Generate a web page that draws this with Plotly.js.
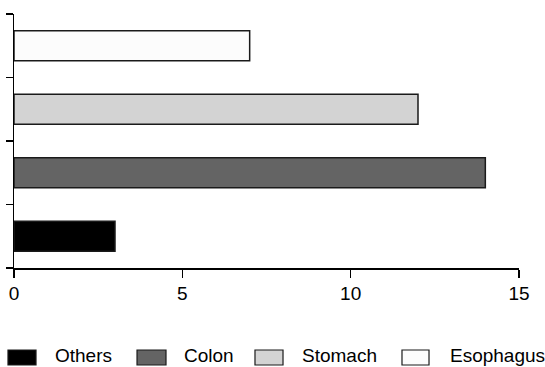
<!DOCTYPE html>
<html>
<head>
<meta charset="utf-8">
<script src="https://cdn.plot.ly/plotly-3.0.1.min.js"></script>
<style>html,body{margin:0;padding:0;background:#fff;}#chart{width:545px;height:367px;}</style>
</head>
<body>
<div id="chart"></div>
<script>
// Data
const categories = ['Others', 'Colon', 'Stomach', 'Esophagus'];
const values = [3, 14, 12, 7];
const colors = ['#000000', '#646464', '#d3d3d3', '#fcfcfc'];
const xTicks = [0, 5, 10, 15];

const FONT = 'Liberation Sans, Arial, sans-serif';
const FSIZE = 19;

const traces = categories.map((name, i) => ({
  type: 'bar',
  orientation: 'h',
  name: name,
  x: [values[i]],
  y: [i],
  width: 0.47,
  marker: { color: colors[i], line: { color: '#1a1a1a', width: 1.5 } },
  showlegend: false,
  hoverinfo: 'x+name'
}));

// Legend drawn as shapes + annotations (wide rectangular swatches)
const swatchX = [[-0.0119, 0.0436], [0.2436, 0.301], [0.4772, 0.5327], [0.7683, 0.8218]];
const textX = [0.0772, 0.3327, 0.5663, 0.8594];
const swY0 = (268 - 365) / 254, swY1 = (268 - 350) / 254;
const txtY = (268 - 355) / 254;

const shapes = categories.map((name, i) => ({
  type: 'rect', xref: 'paper', yref: 'paper',
  x0: swatchX[i][0], x1: swatchX[i][1], y0: swY0, y1: swY1,
  fillcolor: colors[i], line: { color: '#1a1a1a', width: 1.2 }
}));
const annotations = categories.map((name, i) => ({
  xref: 'paper', yref: 'paper', x: textX[i], y: txtY,
  xanchor: 'left', yanchor: 'middle', showarrow: false,
  text: name, font: { family: FONT, size: FSIZE, color: '#000' }
}));

const layout = {
  width: 545, height: 367,
  margin: { l: 14, r: 26, t: 14, b: 99 },
  paper_bgcolor: '#fff', plot_bgcolor: '#fff',
  font: { family: FONT, size: FSIZE, color: '#000' },
  showlegend: false,
  xaxis: {
    range: [0, 15], tickvals: xTicks, ticktext: xTicks.map(String),
    ticks: 'outside', ticklen: 8, tickwidth: 1.3, tickcolor: '#000',
    showline: true, linecolor: '#000', linewidth: 1.5,
    showgrid: false, zeroline: false,
    tickfont: { family: FONT, size: FSIZE, color: '#000' }
  },
  yaxis: {
    range: [-0.5, 3.5], tickvals: [-0.5, 0.5, 1.5, 2.5, 3.5], ticktext: ['', '', '', '', ''],
    ticks: 'outside', ticklen: 7, tickwidth: 1.3, tickcolor: '#000',
    showline: true, linecolor: '#000', linewidth: 1.5,
    showgrid: false, zeroline: false
  },
  shapes: shapes,
  annotations: annotations
};

Plotly.newPlot('chart', traces, layout, { displayModeBar: false, staticPlot: true });
</script>
</body>
</html>
